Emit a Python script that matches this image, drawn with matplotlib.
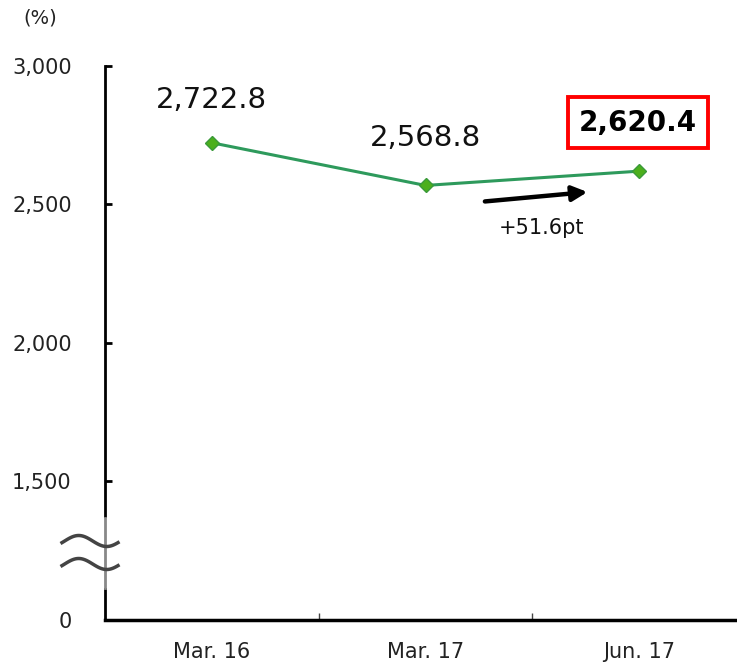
import numpy as np
import matplotlib.pyplot as plt
from matplotlib.patches import Rectangle

# --- DATA ---
periods = ["Mar. 16", "Mar. 17", "Jun. 17"]
ratio = [2722.8, 2568.8, 2620.4]
ytick_vals = [1000, 1500, 2000, 2500, 3000]
ytick_labels = ["0", "1,500", "2,000", "2,500", "3,000"]
change_label = "+51.6pt"

W, H = 737, 664
plt.rcParams['font.family'] = ['DejaVu Sans']

fig = plt.figure(figsize=(W / 100, H / 100), dpi=100)


def fx(px):
    return px / W


def fy(py):
    return 1 - py / H


ax = fig.add_axes([fx(105), fy(620), fx(746) - fx(105), fy(66) - fy(620)])
x = np.arange(len(periods))

ax.plot(x, ratio, color="#2e9a5c", lw=2.2, marker="D", markersize=7,
        markerfacecolor="#4caf1c", markeredgecolor="#3a9a3a", zorder=3)

# data labels
for i, off in zip(range(2), [31, 34]):
    ax.annotate(f"{ratio[i]:,.1f}", (i, ratio[i]), xytext=(0, off), textcoords="offset points",
                ha="center", va="center", fontsize=21, color="#111111")
ax.annotate(f"{ratio[2]:,.1f}", (2, ratio[2]), xytext=(-1, 35), textcoords="offset points",
            ha="center", va="center", fontsize=20, fontweight="bold", color="black",
            bbox=dict(boxstyle="square,pad=0.4", fc="white", ec="#ff0000", lw=2.8))

# change arrow
ax.annotate("", xy=(1.758, 2545), xytext=(1.278, 2511),
            arrowprops=dict(arrowstyle="-|>,head_length=0.9,head_width=0.45",
                            color="black", lw=3.2, shrinkA=0, shrinkB=0))
ax.text(1.545, 2415, change_label, ha="center", va="center", fontsize=15, color="#111111")

ax.set_xlim(-0.5, 2.5)
ax.set_ylim(1000, 3000)
ax.set_yticks(ytick_vals)
ax.set_yticklabels(ytick_labels, fontsize=15, color="#222222")
ax.set_xticks(x)
ax.set_xticklabels(periods, fontsize=15, color="#222222")
ax.tick_params(axis="x", which="major", length=0, pad=16)
ax.set_xticks([0.5, 1.5], minor=True)
ax.tick_params(axis="x", which="minor", direction="in", length=5, width=1, color="#444444")
ax.tick_params(axis="y", direction="in", length=5, width=2, pad=24)

for side in ["top", "right"]:
    ax.spines[side].set_visible(False)
ax.spines["left"].set_linewidth(2)
ax.spines["bottom"].set_linewidth(2.5)
ax.spines["bottom"].set_clip_on(False)

# axis break: grey out part of the spine and draw two wavy marks
fig.patches.append(Rectangle((fx(96), fy(588)), fx(20), fy(518) - fy(588),
                             transform=fig.transFigure, fc="white", ec="none", zorder=5))
fig.add_artist(plt.Line2D([fx(105), fx(105)], [fy(588), fy(518)], transform=fig.transFigure,
                          color="#888888", lw=2, zorder=6))
t = np.linspace(0, 1, 60)
for yc in [541, 564]:
    px = 62 + 56 * t
    py = yc - 5.5 * np.sin(2 * np.pi * t - 0.3)
    fig.add_artist(plt.Line2D(fx(px), fy(py), transform=fig.transFigure,
                              color="#444444", lw=2.5, zorder=7))

fig.text(fx(40), fy(18), "(%)", ha="center", va="center", fontsize=14, color="#222222")

fig.savefig("out.png", dpi=100)
